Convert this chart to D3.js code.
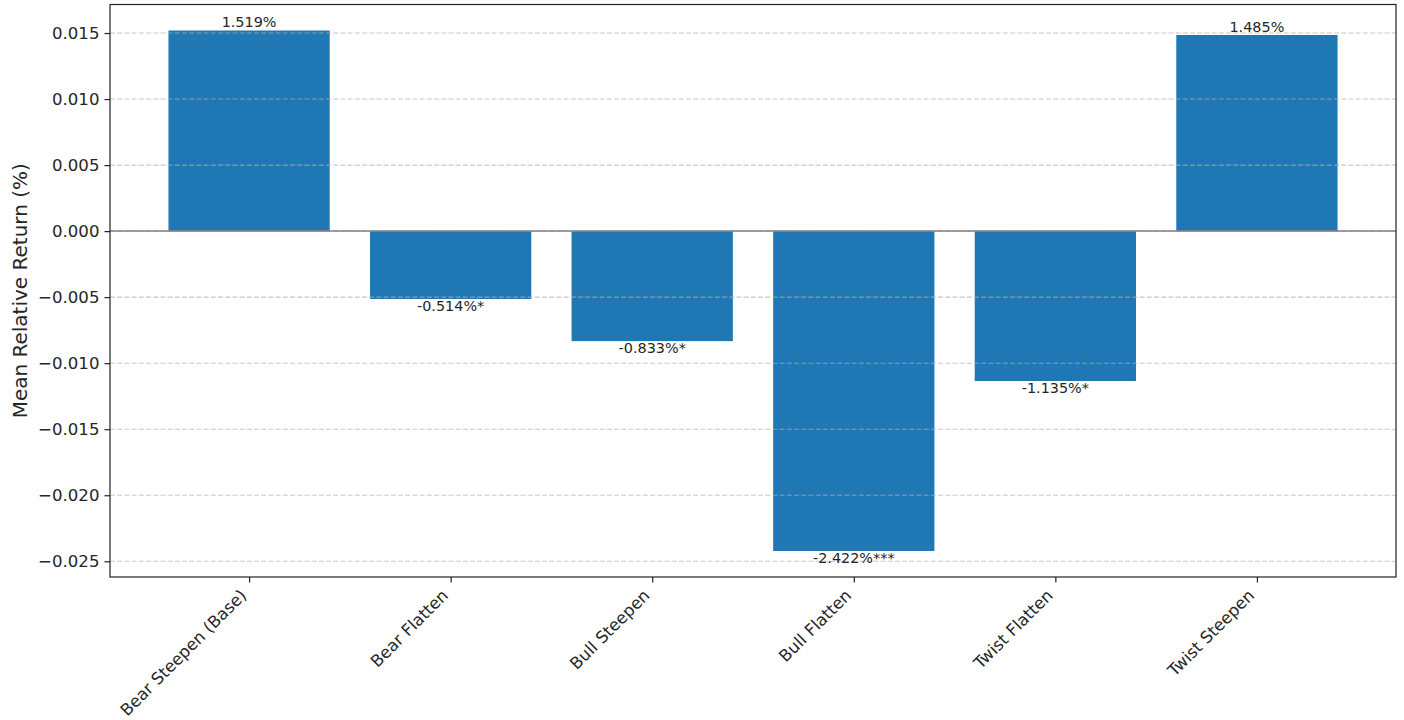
<!DOCTYPE html>
<html>
<head>
<meta charset="utf-8">
<script src="https://cdn.jsdelivr.net/npm/d3@7"></script>
<style>
  html, body { margin: 0; padding: 0; background: #fff; }
  svg { display: block; font-family: "DejaVu Sans", sans-serif; }
</style>
</head>
<body>
<svg id="chart" width="1404" height="720"></svg>
<script>
const categories = ["Bear Steepen (Base)", "Bear Flatten", "Bull Steepen", "Bull Flatten", "Twist Flatten", "Twist Steepen"];
const values = [0.01519, -0.00514, -0.00833, -0.02422, -0.01135, 0.01485];
const barLabels = ["1.519%", "-0.514%*", "-0.833%*", "-2.422%***", "-1.135%*", "1.485%"];
const yTicks = [-0.025, -0.020, -0.015, -0.010, -0.005, 0.000, 0.005, 0.010, 0.015];
const yLabel = "Mean Relative Return (%)";

const svg = d3.select("#chart");
const L = 110, R = 1396, T = 4.5, B = 577;

const ymin = d3.min(values), ymax = d3.max(values);
const ypad = (ymax - ymin) * 0.05;
const y = d3.scaleLinear().domain([ymin - ypad, ymax + ypad]).range([B, T]);

const n = categories.length;
const xpad = (n - 1 + 0.8) * 0.05;
const x = d3.scaleLinear().domain([-0.4 - xpad, n - 1 + 0.4 + xpad]).range([L, R]);
const bw = x(0.8) - x(0);

// bars
svg.append("g").selectAll("rect").data(values).join("rect")
  .attr("x", (d, i) => x(i - 0.4))
  .attr("width", bw)
  .attr("y", d => y(Math.max(0, d)))
  .attr("height", d => Math.abs(y(d) - y(0)))
  .attr("fill", "#1f77b4");

// grid (drawn above bars)
svg.append("g").selectAll("line").data(yTicks).join("line")
  .attr("x1", L).attr("x2", R)
  .attr("y1", d => y(d)).attr("y2", d => y(d))
  .attr("stroke", "#b0b0b0").attr("stroke-opacity", 0.7)
  .attr("stroke-width", 1.1).attr("stroke-dasharray", "5,2.2");

// zero line
svg.append("line")
  .attr("x1", L).attr("x2", R).attr("y1", y(0)).attr("y2", y(0))
  .attr("stroke", "#808080").attr("stroke-width", 1.5);

// bar labels
svg.append("g").selectAll("text").data(values).join("text")
  .attr("x", (d, i) => x(i))
  .attr("y", d => d >= 0 ? y(d) - 3.5 : y(d) + 12)
  .attr("text-anchor", "middle")
  .attr("font-size", "14.4px")
  .attr("fill", "#262626")
  .text((d, i) => barLabels[i]);

// axes frame
svg.append("rect").attr("x", L).attr("y", T).attr("width", R - L).attr("height", B - T)
  .attr("fill", "none").attr("stroke", "#222").attr("stroke-width", 1.2);

// y axis
const yAxis = d3.axisLeft(y).tickValues(yTicks)
  .tickFormat(d => d3.format(".3f")(d).replace("-", "\u2212"))
  .tickSize(5.5).tickPadding(5);
const gy = svg.append("g").attr("transform", `translate(${L},0)`).call(yAxis);
gy.select(".domain").remove();
gy.selectAll(".tick line").attr("stroke", "#222").attr("stroke-width", 1.2);
gy.selectAll(".tick text").attr("font-size", "16.6px").attr("fill", "#262626")
  .attr("font-family", "DejaVu Sans");

// x axis
const xAxis = d3.axisBottom(x).tickValues(d3.range(n)).tickFormat(i => categories[i])
  .tickSize(5.5).tickPadding(0);
const gx = svg.append("g").attr("transform", `translate(0,${B})`).call(xAxis);
gx.select(".domain").remove();
gx.selectAll(".tick line").attr("stroke", "#222").attr("stroke-width", 1.2);
gx.selectAll(".tick text")
  .attr("font-size", "16.5px").attr("fill", "#262626").attr("font-family", "DejaVu Sans")
  .attr("text-anchor", "end")
  .attr("dy", null)
  .attr("y", null)
  .attr("transform", "translate(-2,19.5) rotate(-45)");

// y label
svg.append("text")
  .attr("transform", `translate(27,${(T + B) / 2 + 0}) rotate(-90)`)
  .attr("text-anchor", "middle")
  .attr("font-size", "20px")
  .attr("fill", "#262626")
  .text(yLabel);
</script>
</body>
</html>
